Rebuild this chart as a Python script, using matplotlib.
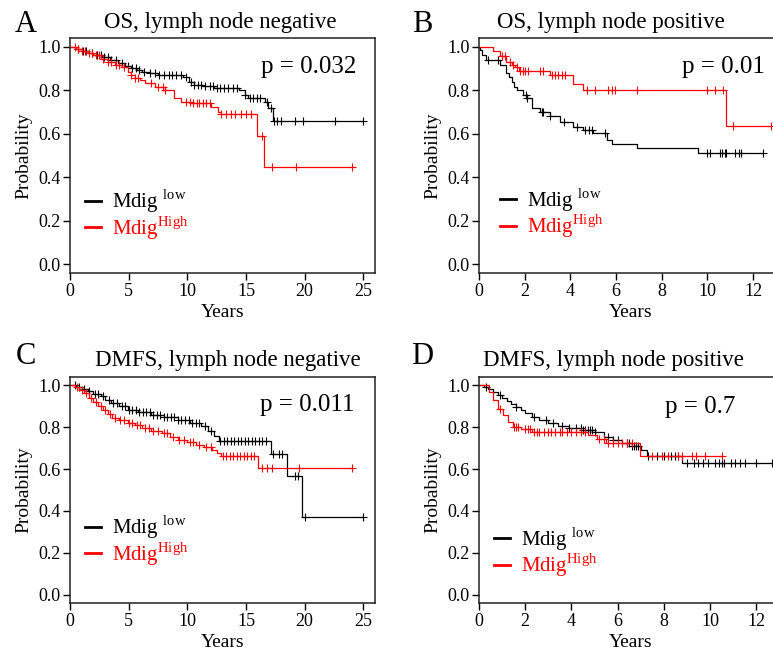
import numpy as np
import matplotlib
matplotlib.use('Agg')
import matplotlib.pyplot as plt

plt.rcParams['font.family'] = ['Liberation Serif', 'DejaVu Serif']
plt.rcParams['mathtext.fontset'] = 'custom'
plt.rcParams['mathtext.rm'] = 'Liberation Serif'

# --- Panel A: OS, lymph node negative ---
a_low_t = [0, 0.5, 1.0, 1.5, 2.0, 2.7, 3.4, 4.1, 4.7, 5.2, 5.7, 6.1, 6.8, 7.5, 9.6, 10.1, 10.6, 11.3, 12.3, 14.4, 14.9, 15.2, 16.6, 16.9, 17.3]
a_low_s = [1.0, 0.99, 0.98, 0.97, 0.963, 0.954, 0.94, 0.924, 0.912, 0.90, 0.892, 0.885, 0.877, 0.870, 0.863, 0.84, 0.825, 0.818, 0.81, 0.80, 0.78, 0.763, 0.748, 0.718, 0.66]
a_low_cens = [0.7, 1.1, 1.4, 1.9, 2.3, 2.6, 2.9, 3.2, 3.5, 3.9, 4.4, 4.9, 5.3, 5.6, 5.9, 6.3, 6.8, 7.2, 7.6, 8.0,
              8.4, 8.7, 9.0, 9.5, 9.9, 10.3, 10.6, 10.9, 11.2, 11.5, 11.9, 12.2, 12.5, 12.8, 13.1, 13.5, 13.9, 14.2,
              14.9, 15.3, 15.6, 15.9, 16.2, 16.8, 17.1, 17.4, 17.6, 18.0, 19.2, 19.9, 22.6, 25.0]
a_high_t = [0, 0.5, 1.0, 1.5, 2.0, 2.6, 3.2, 3.8, 4.4, 4.9, 5.2, 5.5, 6.0, 6.4, 7.2, 8.1, 8.9, 9.5, 10.3, 12.0, 12.6, 12.9, 15.9, 16.5]
a_high_s = [1.0, 0.99, 0.98, 0.972, 0.96, 0.945, 0.93, 0.918, 0.905, 0.885, 0.87, 0.855, 0.845, 0.832, 0.817, 0.80, 0.763, 0.748, 0.74, 0.725, 0.702, 0.69, 0.59, 0.445]
a_high_cens = [0.4, 0.7, 1.0, 1.3, 1.6, 1.9, 2.2, 2.5, 2.8, 3.2, 3.5, 3.9, 4.2, 4.6, 5.2, 5.5, 5.8, 6.9, 7.5, 7.9,
               8.1, 9.9, 10.2, 10.5, 10.8, 11.0, 11.3, 11.6, 11.9, 12.9, 13.3, 13.7, 14.1, 14.6, 15.0, 15.4,
               16.4, 17.2, 19.3, 24.0]

# --- Panel B: OS, lymph node positive ---
b_low_t = [0, 0.05, 0.15, 0.3, 0.9, 1.2, 1.3, 1.43, 1.55, 1.65, 1.94, 2.1, 2.3, 2.67, 3.1, 3.54, 4.13, 4.57, 5.0, 5.6, 5.8, 6.9, 9.6]
b_low_s = [1.0, 0.985, 0.96, 0.94, 0.915, 0.88, 0.86, 0.84, 0.815, 0.80, 0.78, 0.763, 0.72, 0.70, 0.68, 0.656, 0.633, 0.618, 0.603, 0.573, 0.553, 0.533, 0.512]
b_low_cens = [0.38, 0.85, 2.05, 2.12, 2.74, 2.8, 3.1, 3.7, 4.27, 4.64, 4.8, 4.93, 5.51, 9.96, 10.1, 10.54,
              10.65, 10.75, 10.83, 11.2, 11.4, 11.49, 12.44]
b_high_t = [0, 0.63, 0.92, 1.2, 1.45, 1.57, 1.75, 3.1, 4.13, 4.57, 10.83]
b_high_s = [1.0, 0.98, 0.955, 0.93, 0.915, 0.905, 0.888, 0.87, 0.83, 0.80, 0.635]
b_high_cens = [0.99, 1.14, 1.36, 1.5, 1.65, 1.79, 1.94, 2.01, 2.16, 2.67, 2.81, 3.18, 3.32, 3.47, 3.62, 3.77,
               4.71, 5.07, 5.66, 5.8, 5.95, 6.9, 9.96, 10.33, 10.69, 11.13, 12.8]

# --- Panel C: DMFS, lymph node negative ---
c_low_t = [0, 0.5, 1.0, 1.5, 2.0, 2.6, 3.0, 3.5, 4.2, 4.9, 5.8, 6.9, 8.0, 9.2, 10.2, 11.2, 11.8, 12.3, 12.7, 17.1, 18.5, 19.75]
c_low_s = [1.0, 0.99, 0.98, 0.97, 0.958, 0.946, 0.93, 0.914, 0.898, 0.882, 0.87, 0.858, 0.847, 0.835, 0.82, 0.803, 0.78, 0.756, 0.733, 0.671, 0.565, 0.373]
c_low_cens = [0.4, 0.8, 1.2, 1.6, 2.1, 2.4, 2.8, 3.3, 3.7, 4.0, 4.4, 4.7, 5.0, 5.3, 5.6, 5.9, 6.2, 6.5, 6.8, 7.1,
              7.4, 7.7, 8.0, 8.3, 8.6, 8.9, 9.2, 9.5, 9.8, 10.1, 10.4, 10.7, 11.0, 11.5, 12.0, 12.8, 13.1, 13.4,
              13.7, 14.0, 14.3, 14.6, 14.9, 15.2, 15.5, 15.8, 16.1, 16.4, 16.7, 17.3, 17.8, 18.1, 19.2, 19.4,
              20.0, 25.0]
c_high_t = [0, 0.4, 0.8, 1.2, 1.6, 2.0, 2.4, 2.8, 3.2, 3.6, 4.2, 4.9, 5.5, 6.1, 6.9, 7.8, 8.5, 9.2, 10.0, 10.7, 11.4, 12.1, 12.5, 12.9, 16.0]
c_high_s = [1.0, 0.99, 0.975, 0.96, 0.94, 0.92, 0.90, 0.88, 0.862, 0.845, 0.832, 0.819, 0.808, 0.795, 0.782, 0.77, 0.755, 0.74, 0.728, 0.716, 0.705, 0.69, 0.675, 0.66, 0.603]
c_high_cens = [0.6, 1.0, 1.4, 1.8, 2.2, 2.6, 3.0, 3.4, 3.8, 4.3, 4.6, 5.0, 5.3, 5.7, 6.0, 6.4, 6.7, 7.1, 7.5, 8.0,
               8.3, 8.8, 9.3, 9.7, 10.2, 10.5, 11.0, 11.6, 12.0, 13.0, 13.3, 13.6, 13.9, 14.2, 14.5, 14.8, 15.1,
               15.4, 15.7, 16.4, 16.8, 17.2, 19.5, 24.0]

# --- Panel D: DMFS, lymph node positive ---
d_low_t = [0, 0.2, 0.4, 0.6, 0.8, 1.0, 1.2, 1.4, 1.6, 1.8, 2.0, 2.3, 2.6, 3.0, 3.4, 3.9, 4.5, 5.0, 5.4, 5.8, 6.2, 6.6, 7.0, 7.26, 8.8]
d_low_s = [1.0, 0.99, 0.98, 0.965, 0.952, 0.94, 0.925, 0.91, 0.895, 0.88, 0.865, 0.85, 0.835, 0.82, 0.806, 0.795, 0.785, 0.776, 0.752, 0.736, 0.725, 0.712, 0.69, 0.664, 0.627]
d_low_cens = [0.3, 0.9, 1.6, 2.4, 2.9, 3.2, 3.6, 3.9, 4.2, 4.4, 4.5, 4.6, 4.7, 4.8, 4.9, 5.0, 5.6, 5.8, 6.0, 6.4,
              6.5, 6.6, 6.7, 6.8, 6.9, 7.3, 7.7, 8.0, 8.3, 8.5, 8.6, 9.0, 9.3, 9.5, 9.7, 9.9, 10.2, 10.4, 10.5,
              10.6, 10.9, 11.1, 11.3, 11.5, 12.0, 12.7]
d_high_t = [0, 0.42, 0.62, 0.84, 1.05, 1.27, 1.48, 1.8, 2.3, 4.7, 5.1, 5.5, 6.96]
d_high_s = [1.0, 0.968, 0.928, 0.888, 0.856, 0.824, 0.80, 0.79, 0.777, 0.76, 0.745, 0.725, 0.664]
d_high_cens = [0.9, 1.5, 1.6, 1.7, 2.0, 2.1, 2.2, 2.4, 2.5, 2.6, 2.8, 3.0, 3.1, 3.3, 3.5, 3.6, 3.8, 4.0, 4.2,
               4.4, 4.6, 5.2, 5.4, 5.6, 5.8, 6.0, 6.2, 6.4, 6.6, 7.5, 7.9, 8.2, 8.6, 8.8, 9.2, 9.4, 9.8, 10.5]

# layout: axes box, title/letter centres (figure fractions), p-value and legend anchors (axes fractions)
panels = [
    dict(letter='A', title='OS, lymph node negative', p='p = 0.032',
         low=(a_low_t, a_low_s, a_low_cens), high=(a_high_t, a_high_s, a_high_cens),
         pos=[0.0906, 0.5826, 0.3946, 0.3593], xlim=26, xticks=range(0, 26, 5),
         px=0.94, py=0.877, title_xy=(0.2846, 0.966), letter_xy=(0.0336, 0.962), leg=(0.0, 0.07)),
    dict(letter='B', title='OS, lymph node positive', p='p = 0.01',
         low=(b_low_t, b_low_s, b_low_cens), high=(b_high_t, b_high_s, b_high_cens),
         pos=[0.6197, 0.5826, 0.393, 0.3593], xlim=13.3, xticks=range(0, 13, 2),
         px=0.94, py=0.878, title_xy=(0.7904, 0.966), letter_xy=(0.546, 0.962), leg=(0.02, 0.077)),
    dict(letter='C', title='DMFS, lymph node negative', p='p = 0.011',
         low=(c_low_t, c_low_s, c_low_cens), high=(c_high_t, c_high_s, c_high_cens),
         pos=[0.0906, 0.0775, 0.3946, 0.3465], xlim=26, xticks=range(0, 26, 5),
         px=0.934, py=0.875, title_xy=(0.295, 0.4495), letter_xy=(0.0336, 0.455), leg=(0.0, 0.093)),
    dict(letter='D', title='DMFS, lymph node positive', p='p = 0.7',
         low=(d_low_t, d_low_s, d_low_cens), high=(d_high_t, d_high_s, d_high_cens),
         pos=[0.6197, 0.0775, 0.393, 0.3465], xlim=13.15, xticks=range(0, 13, 2),
         px=0.845, py=0.868, title_xy=(0.793, 0.4495), letter_xy=(0.546, 0.455), leg=(0.0, 0.042)),
]


def km_curve(ax, t, s, cens, color, label):
    t = list(t)
    s = list(s)
    end = max(max(cens), t[-1])
    ax.step(t + [end], s + [s[-1]], where='post', color=color, lw=0.9, label=label)
    # censor ticks sit on the curve
    idx = np.searchsorted(t, cens, side='right') - 1
    ax.plot(cens, np.array(s)[idx], linestyle='none', marker='+', color=color,
            markersize=6, markeredgewidth=0.8)


fig = plt.figure(figsize=(7.73, 6.54), dpi=100)

for pnl in panels:
    ax = fig.add_axes(pnl['pos'])
    km_curve(ax, *pnl['low'], color='black', label='Mdig $^{\\rm low}$')
    km_curve(ax, *pnl['high'], color='red', label='Mdig$^{\\rm High}$')

    ax.set_xlim(0, pnl['xlim'])
    ax.set_ylim(-0.04, 1.04)
    ax.set_xticks(list(pnl['xticks']))
    ax.set_yticks([0.0, 0.2, 0.4, 0.6, 0.8, 1.0])
    ax.set_yticklabels(['0.0', '0.2', '0.4', '0.6', '0.8', '1.0'])
    ax.tick_params(labelsize=13, length=5, width=1, direction='out', pad=2)
    for sp in ax.spines.values():
        sp.set_linewidth(1.1)
        sp.set_color('#222222')
    ax.set_xlabel('Years', fontsize=14, labelpad=3)
    ax.set_ylabel('Probability', fontsize=14, labelpad=4)

    ax.text(pnl['px'], pnl['py'], pnl['p'], transform=ax.transAxes,
            ha='right', va='center', fontsize=18)

    leg = ax.legend(loc='lower left', bbox_to_anchor=pnl['leg'], frameon=False,
                    fontsize=15, handlelength=0.8, handletextpad=0.5,
                    labelspacing=-0.05, borderaxespad=0.3, labelcolor='linecolor')
    for line in leg.get_lines():
        line.set_linewidth(2)

    fig.text(*pnl['title_xy'], pnl['title'], ha='center', va='center', fontsize=16.5)
    fig.text(*pnl['letter_xy'], pnl['letter'], ha='center', va='center', fontsize=22)

fig.savefig('out.png', dpi=100)
